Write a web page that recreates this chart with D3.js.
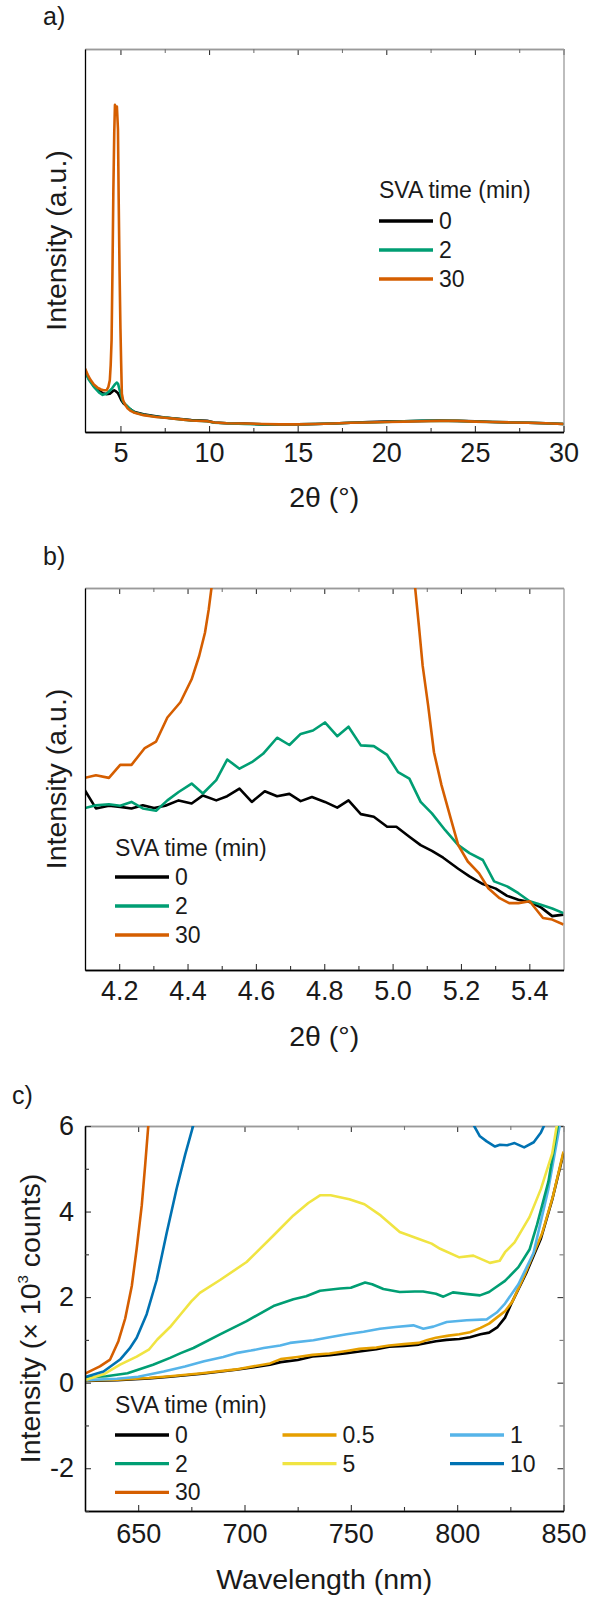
<!DOCTYPE html>
<html>
<head>
<meta charset="utf-8">
<script src="https://cdn.jsdelivr.net/npm/d3@7"></script>
<style>
  body { margin: 0; background: #fff; }
  svg { display: block; font-family: "Liberation Sans", Arial, sans-serif; }
</style>
</head>
<body>
<svg id="fig" width="589" height="1597"></svg>
<script>
// ---- panel a: XRD full range (2theta, arb. units) ----
const aBlack = [[3.0,16.2],[3.2,14.0],[3.5,12.0],[3.8,10.8],[4.0,10.1],[4.2,9.9],[4.4,10.0],[4.55,10.6],[4.65,10.9],[4.75,10.6],[4.85,10.2],[4.95,9.3],[5.05,8.3],[5.15,7.6],[5.3,7.0],[5.5,6.1],[5.8,5.2],[6.3,4.6],[7.0,4.1],[7.5,3.8],[8.4,3.4],[9.0,3.1],[9.9,2.9],[10.3,2.5],[11,2.3],[12,2.2],[13,2.0],[14,2.0],[15,2.0],[16,2.1],[17,2.2],[18,2.4],[19,2.6],[20,2.7],[21,2.8],[22,2.9],[23,3.0],[24,2.9],[25,2.8],[26,2.6],[27,2.5],[28,2.4],[29,2.3],[30,2.1]];
const aGreen = [[3.0,16.0],[3.2,13.8],[3.5,11.8],[3.8,10.3],[4.0,9.7],[4.2,10.0],[4.35,10.6],[4.5,11.2],[4.6,11.9],[4.7,12.5],[4.8,12.9],[4.87,12.5],[4.93,11.4],[5.0,10.2],[5.07,9.0],[5.15,7.9],[5.3,7.1],[5.5,6.2],[5.8,5.1],[6.3,4.5],[7.0,4.0],[7.5,3.8],[8.4,3.3],[9.0,3.0],[9.9,2.8],[10.3,2.4],[11,2.3],[12,2.1],[13,2.0],[14,2.0],[15,2.0],[16,2.1],[17,2.2],[18,2.4],[19,2.5],[20,2.6],[21,2.8],[22,2.9],[23,2.9],[24,2.9],[25,2.7],[26,2.6],[27,2.5],[28,2.4],[29,2.3],[30,2.1]];
const aOrange = [[3.0,16.6],[3.15,15.0],[3.3,13.7],[3.5,12.4],[3.7,11.6],[3.9,11.1],[4.05,10.9],[4.22,10.9],[4.32,11.8],[4.4,13.5],[4.45,17.5],[4.5,24],[4.55,42],[4.6,63],[4.65,78],[4.69,85.4],[4.75,84],[4.8,85],[4.86,79],[4.9,61],[4.95,42],[5.0,27],[5.04,18],[5.08,10],[5.15,8.3],[5.26,7.2],[5.4,6.2],[5.55,5.6],[5.8,5.0],[6.3,4.4],[7.0,3.9],[7.5,3.7],[8.4,3.3],[9.0,3.0],[9.9,2.8],[10.3,2.5],[11,2.3],[12,2.2],[13,2.1],[14,2.0],[15,2.0],[16,2.1],[17,2.2],[18,2.4],[19,2.5],[20,2.6],[21,2.7],[22,2.8],[23,2.9],[24,2.9],[25,2.7],[26,2.6],[27,2.5],[28,2.4],[29,2.3],[30,2.1]];

// ---- panel b: zoom around the low-angle peak ----
const bBlack = [[4.100,47.0],[4.132,42.3],[4.170,43.0],[4.203,42.7],[4.236,42.3],[4.269,43.1],[4.302,42.4],[4.335,43.0],[4.374,44.4],[4.412,43.6],[4.445,45.7],[4.484,44.4],[4.516,45.5],[4.552,47.5],[4.588,44.0],[4.626,46.8],[4.662,45.5],[4.698,46.1],[4.731,44.2],[4.764,45.3],[4.802,44.0],[4.838,42.5],[4.871,44.4],[4.907,40.8],[4.945,40.1],[4.984,37.5],[5.011,37.5],[5.049,34.9],[5.082,32.7],[5.115,31.2],[5.148,29.4],[5.192,26.5],[5.225,24.5],[5.264,22.5],[5.302,21.3],[5.335,19.4],[5.368,18.4],[5.401,17.8],[5.434,16.4],[5.467,14.1],[5.500,14.5]];
const bGreen = [[4.100,42.4],[4.132,43.1],[4.170,43.4],[4.203,43.0],[4.236,44.0],[4.269,42.3],[4.308,41.7],[4.341,44.4],[4.374,46.6],[4.412,48.8],[4.445,46.2],[4.484,49.7],[4.516,55.1],[4.552,52.7],[4.588,54.4],[4.621,56.6],[4.662,60.8],[4.698,58.9],[4.731,61.8],[4.767,62.7],[4.802,64.8],[4.838,61.2],[4.871,63.7],[4.907,58.8],[4.945,58.6],[4.984,56.3],[5.016,51.8],[5.049,50.1],[5.082,44.0],[5.115,41.0],[5.154,36.6],[5.192,32.7],[5.225,30.6],[5.264,28.8],[5.297,23.2],[5.335,21.9],[5.368,20.1],[5.401,18.0],[5.434,17.1],[5.467,16.1],[5.500,14.9]];
const bOrange = [[4.100,50.3],[4.132,51.0],[4.170,50.3],[4.203,53.7],[4.236,53.7],[4.275,58.1],[4.308,59.8],[4.341,66.1],[4.379,70.1],[4.412,76.1],[4.434,82.2],[4.451,88.3],[4.462,94.4],[4.470,100],[4.490,130],[4.700,600],[4.850,600],[5.055,130],[5.066,100],[5.077,90.0],[5.088,79.6],[5.104,69.2],[5.121,57.0],[5.143,48.4],[5.170,39.7],[5.192,32.7],[5.220,28.4],[5.253,25.3],[5.280,21.4],[5.313,18.8],[5.341,17.5],[5.368,17.5],[5.401,18.0],[5.440,13.6],[5.467,13.2],[5.500,11.9]];

// ---- panel c: PL intensity (x10^3 counts) vs wavelength (nm) ----
const c0 = [[625,0.04],[640,0.06],[655,0.10],[665,0.14],[680,0.21],[696,0.30],[712,0.42],[717,0.48],[725,0.53],[732,0.61],[740,0.64],[748,0.69],[754,0.73],[762,0.78],[768,0.84],[775,0.86],[782,0.89],[790,0.97],[795,1.00],[801,1.02],[806,1.06],[811,1.13],[815,1.17],[819,1.30],[822.5,1.52],[825.3,1.83],[832.3,2.54],[839.4,3.37],[844.7,4.28],[850,5.36]];
const c05 = [[625,0.05],[640,0.07],[655,0.11],[665,0.15],[680,0.22],[696,0.31],[712,0.45],[717,0.55],[725,0.60],[732,0.65],[740,0.68],[748,0.74],[754,0.79],[762,0.82],[768,0.87],[775,0.90],[782,0.93],[786,1.00],[790,1.05],[796,1.10],[801,1.13],[806,1.18],[811,1.28],[815,1.38],[818.6,1.52],[822.5,1.67],[826,1.90],[832,2.55],[840,3.50],[845,4.35],[850,5.40]];
const c1 = [[625,0.06],[640,0.09],[650,0.14],[662,0.26],[672,0.38],[681,0.50],[690,0.60],[696,0.69],[703,0.75],[709,0.81],[716.8,0.87],[721.4,0.93],[732.4,0.99],[740,1.06],[748,1.13],[756,1.19],[763.7,1.26],[771,1.30],[779.4,1.34],[784.1,1.26],[788.8,1.31],[795.1,1.42],[804.5,1.46],[813.9,1.48],[818.6,1.64],[822.5,1.85],[828.8,2.30],[835.9,3.03],[842.9,4.53],[848.2,6.0],[850,6.5]];
const c2 = [[625,0.12],[635,0.15],[645,0.22],[657,0.42],[665,0.58],[670,0.69],[676,0.81],[688.5,1.13],[701,1.44],[713.6,1.79],[723,1.95],[729,2.02],[735.5,2.15],[745,2.20],[750,2.22],[756.7,2.34],[760,2.30],[765.3,2.19],[773,2.12],[780,2.13],[784,2.13],[790,2.08],[793.5,2.01],[798,2.11],[805,2.07],[810.7,2.04],[815,2.12],[817,2.19],[822.5,2.38],[828.8,2.70],[834.1,3.12],[837.6,3.70],[842.9,4.70],[847.3,6.0],[850,6.9]];
const c5 = [[625,0.06],[634,0.20],[641.5,0.42],[649.3,0.61],[655,0.77],[659,1.01],[665,1.30],[670,1.60],[675,1.90],[679,2.10],[688.5,2.40],[701,2.82],[713.6,3.44],[723,3.91],[730,4.20],[735.5,4.38],[740.5,4.38],[749.3,4.29],[756.4,4.17],[764,3.91],[773,3.52],[782,3.36],[788,3.25],[792,3.13],[801,2.93],[807.6,2.97],[815.4,2.80],[820,2.85],[822.5,3.05],[827,3.28],[834,3.87],[839.4,4.53],[844.7,5.36],[846.8,6.0],[850,6.8]];
const c10 = [[625,0.13],[633.7,0.26],[641.5,0.54],[646,0.80],[649.3,1.05],[654,1.60],[658.7,2.40],[663.4,3.50],[668.1,4.54],[672.1,5.33],[676,6.03],[682,7.5],[700,11],[760,13],[800,9],[805,7],[808,6.0],[810.7,5.76],[813.9,5.64],[817.8,5.52],[820.1,5.56],[823.5,5.55],[827,5.60],[831.5,5.50],[836,5.62],[839.4,5.85],[840.8,6.0],[845,7.5],[850,9]];
const c30 = [[625,0.21],[632,0.38],[636.8,0.54],[640.7,0.97],[643.9,1.50],[647,2.26],[649.3,3.13],[651.7,4.15],[653.3,5.09],[654.8,6.03],[657,7.5],[662,10]];

// legend labels and tick labels
const abTimes = ["0", "2", "30"];
const cTimes = ["0", "0.5", "1", "2", "5", "10", "30"];
const aXTicks = [5, 10, 15, 20, 25, 30];
const aXMinor = [7.5, 12.5, 17.5, 22.5, 27.5];
const bXTicks = [4.2, 4.4, 4.6, 4.8, 5.0, 5.2, 5.4];
const bXMinor = [4.3, 4.5, 4.7, 4.9, 5.1, 5.3];
const cXTicks = [650, 700, 750, 800, 850];
const cXMinor = [675, 725, 775, 825];
const cYTicks = [-2, 0, 2, 4, 6];
const cYMinor = [-3, -1, 1, 3, 5];

const colors = {
  "0": "#000000", "0.5": "#E69F00", "1": "#56B4E9", "2": "#009E73",
  "5": "#F0E442", "10": "#0072B2", "30": "#D55E00"
};

const svg = d3.select("#fig");
svg.append("rect").attr("width", 589).attr("height", 1597).attr("fill", "#fff");

const left = 85, right = 563.5;
const tickFont = 27, titleFont = 28.5, legFont = 23;

function styleAxis(g, domainColor) {
  g.select(".domain").attr("stroke", domainColor).attr("stroke-width", 1.3);
  g.selectAll(".tick line").attr("stroke", "#333").attr("stroke-width", 1.1);
  g.selectAll(".tick text").attr("font-size", tickFont).attr("fill", "#1a1a1a")
    .attr("font-family", '"Liberation Sans", Arial, sans-serif');
}

function panel(cfg) {
  const x = d3.scaleLinear().domain(cfg.xDomain).range([left, right]);
  const y = d3.scaleLinear().domain(cfg.yDomain).range([cfg.bottom, cfg.top]);
  const g = svg.append("g");

  g.append("clipPath").attr("id", "clip-" + cfg.name)
    .append("rect").attr("x", left).attr("y", cfg.top)
    .attr("width", right - left).attr("height", cfg.bottom - cfg.top);

  // top frame with inward ticks
  const top = g.append("g").attr("transform", `translate(0,${cfg.top})`)
    .call(d3.axisTop(x).tickValues(cfg.xTicks).tickSizeInner(-6).tickSizeOuter(0).tickFormat(""));
  styleAxis(top, "#9a9a9a");
  const topMinor = g.append("g").attr("transform", `translate(0,${cfg.top})`)
    .call(d3.axisTop(x).tickValues(cfg.xMinor).tickSizeInner(-4).tickSizeOuter(0).tickFormat(""));
  styleAxis(topMinor, "#9a9a9a");
  topMinor.selectAll(".tick line").attr("stroke", "#777");

  // right frame
  const rightAx = g.append("g").attr("transform", `translate(${right},0)`)
    .call(d3.axisRight(y).tickValues(cfg.yTicks || []).tickSizeInner(-6).tickSizeOuter(0).tickFormat(""));
  styleAxis(rightAx, "#9a9a9a");
  if (cfg.yMinor) {
    const rm = g.append("g").attr("transform", `translate(${right},0)`)
      .call(d3.axisRight(y).tickValues(cfg.yMinor).tickSizeInner(-4).tickSizeOuter(0).tickFormat(""));
    styleAxis(rm, "#9a9a9a");
    rm.selectAll(".tick line").attr("stroke", "#777");
  }

  // curves
  const line = d3.line().x(d => x(d[0])).y(d => y(d[1]));
  g.append("g").attr("clip-path", `url(#clip-${cfg.name})`)
    .selectAll("path").data(cfg.series).join("path")
    .attr("d", s => line(s.values))
    .attr("fill", "none")
    .attr("stroke", s => colors[s.label])
    .attr("stroke-width", 2.6)
    .attr("stroke-linejoin", "round");

  // bottom axis
  const bottom = g.append("g").attr("transform", `translate(0,${cfg.bottom})`)
    .call(d3.axisBottom(x).tickValues(cfg.xTicks).tickSizeInner(-6).tickSizeOuter(0)
      .tickPadding(cfg.xPad).tickFormat(cfg.xFormat));
  styleAxis(bottom, "#000");
  const bottomMinor = g.append("g").attr("transform", `translate(0,${cfg.bottom})`)
    .call(d3.axisBottom(x).tickValues(cfg.xMinor).tickSizeInner(-4).tickSizeOuter(0).tickFormat(""));
  styleAxis(bottomMinor, "#000");

  // left axis (plain hyphen for negatives, as in the original)
  const leftAx = g.append("g").attr("transform", `translate(${left},0)`)
    .call(d3.axisLeft(y).tickValues(cfg.yTicks || []).tickSizeInner(-6).tickSizeOuter(0)
      .tickPadding(11).tickFormat(d => String(d)));
  styleAxis(leftAx, "#000");
  if (cfg.yMinor) {
    const lm = g.append("g").attr("transform", `translate(${left},0)`)
      .call(d3.axisLeft(y).tickValues(cfg.yMinor).tickSizeInner(-4).tickSizeOuter(0).tickFormat(""));
    styleAxis(lm, "#000");
  }

  // axis titles
  g.append("text").attr("x", (left + right) / 2).attr("y", cfg.xTitleY)
    .attr("text-anchor", "middle").attr("font-size", titleFont).attr("fill", "#1a1a1a")
    .text(cfg.xTitle);
  const yt = g.append("text")
    .attr("transform", `translate(${cfg.yTitleX},${(cfg.top + cfg.bottom) / 2}) rotate(-90)`)
    .attr("text-anchor", "middle").attr("font-size", titleFont).attr("fill", "#1a1a1a");
  cfg.yTitle(yt);

  // panel letter
  g.append("text").attr("x", cfg.letterX).attr("y", cfg.letterY)
    .attr("font-size", 25).attr("fill", "#1a1a1a").text(cfg.letter);

  // legend
  const leg = g.append("g");
  leg.append("text").attr("x", cfg.legX).attr("y", cfg.legTitleY)
    .attr("font-size", legFont).attr("fill", "#1a1a1a").text("SVA time (min)");
  cfg.series.forEach((s, i) => {
    const col = i % cfg.legCols, row = Math.floor(i / cfg.legCols);
    const lx = cfg.legX + col * cfg.legColW;
    const ly = cfg.legRow0 + row * cfg.legRowH;
    leg.append("line").attr("x1", lx).attr("x2", lx + cfg.legLineW)
      .attr("y1", ly).attr("y2", ly)
      .attr("stroke", colors[s.label]).attr("stroke-width", 3.3);
    leg.append("text").attr("x", lx + cfg.legLineW + 6).attr("y", ly)
      .attr("dy", "0.35em").attr("font-size", legFont).attr("fill", "#1a1a1a").text(s.label);
  });
}

panel({
  name: "a", xDomain: [3, 30], yDomain: [0, 100], top: 49, bottom: 432,
  xTicks: aXTicks, xMinor: aXMinor, xPad: 11, xFormat: d3.format("d"),
  xTitle: "2θ (°)", xTitleY: 507,
  yTitleX: 66, yTitle: t => t.text("Intensity (a.u.)"),
  letter: "a)", letterX: 43, letterY: 25,
  series: [
    { label: abTimes[0], values: aBlack },
    { label: abTimes[1], values: aGreen },
    { label: abTimes[2], values: aOrange }
  ],
  legX: 379, legTitleY: 198, legRow0: 221, legRowH: 29, legCols: 1, legColW: 0, legLineW: 54
});

panel({
  name: "b", xDomain: [4.1, 5.5], yDomain: [0, 100], top: 588, bottom: 970,
  xTicks: bXTicks, xMinor: bXMinor, xPad: 11, xFormat: d3.format(".1f"),
  xTitle: "2θ (°)", xTitleY: 1046,
  yTitleX: 66, yTitle: t => t.text("Intensity (a.u.)"),
  letter: "b)", letterX: 43, letterY: 565,
  series: [
    { label: abTimes[0], values: bBlack },
    { label: abTimes[1], values: bGreen },
    { label: abTimes[2], values: bOrange }
  ],
  legX: 115, legTitleY: 856, legRow0: 877, legRowH: 29, legCols: 1, legColW: 0, legLineW: 54
});

panel({
  name: "c", xDomain: [625, 850], yDomain: [-3, 6], top: 1126, bottom: 1511,
  xTicks: cXTicks, xMinor: cXMinor, yTicks: cYTicks, yMinor: cYMinor, xPad: 13, xFormat: d3.format("d"),
  xTitle: "Wavelength (nm)", xTitleY: 1589,
  yTitleX: 40, yTitle: t => {
    t.append("tspan").text("Intensity (× 10");
    t.append("tspan").attr("font-size", 15).attr("dy", -12).text("3");
    t.append("tspan").attr("dy", 12).text(" counts)");
  },
  letter: "c)", letterX: 12, letterY: 1104,
  series: [
    { label: cTimes[0], values: c0 },
    { label: cTimes[1], values: c05 },
    { label: cTimes[2], values: c1 },
    { label: cTimes[3], values: c2 },
    { label: cTimes[4], values: c5 },
    { label: cTimes[5], values: c10 },
    { label: cTimes[6], values: c30 }
  ],
  legX: 115, legTitleY: 1413, legRow0: 1435, legRowH: 28.7, legCols: 3, legColW: 167.5, legLineW: 54
});
</script>
</body>
</html>
